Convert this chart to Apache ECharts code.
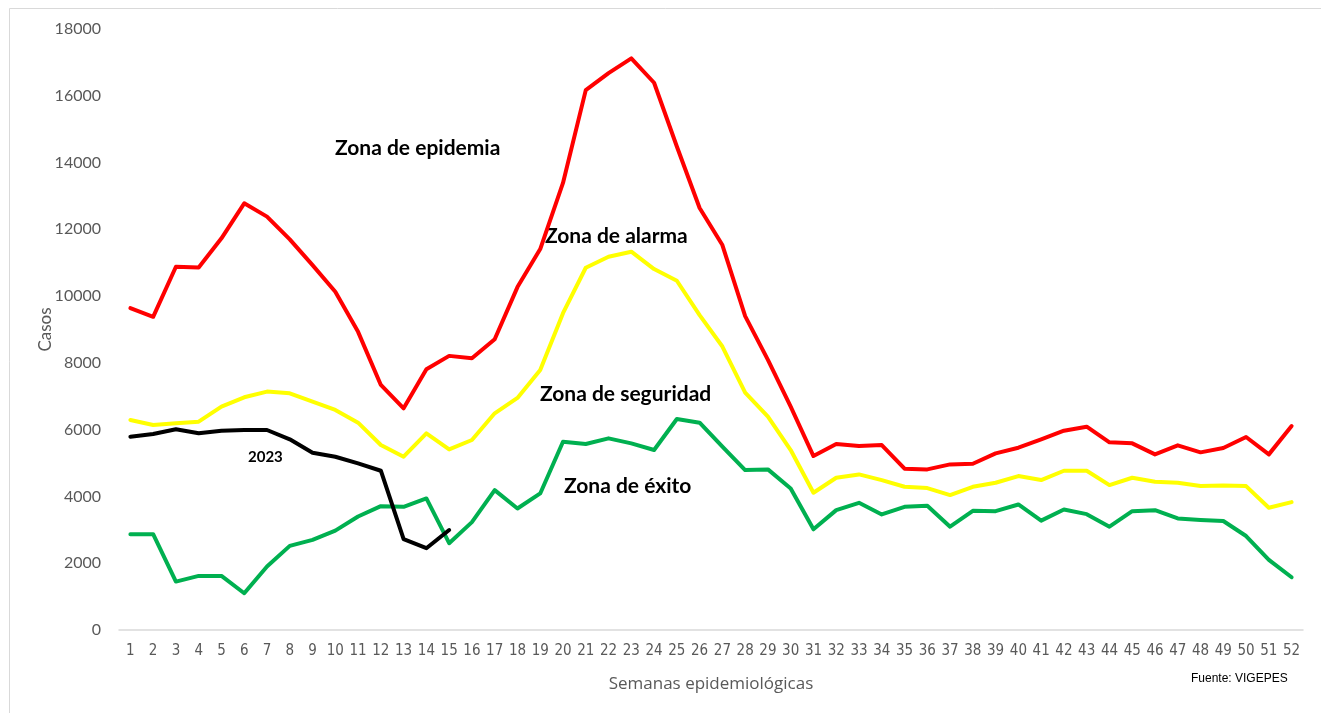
<!DOCTYPE html>
<html>
<head>
<meta charset="utf-8">
<script src="https://cdn.jsdelivr.net/npm/echarts@6/dist/echarts.min.js"></script>
<style>
  html, body { margin: 0; padding: 0; background: #fff; }
  #chart { width: 1321px; height: 713px; }
</style>
</head>
<body>
<div id="chart"></div>
<script>
// semanas 1..52
const weeks = Array.from({ length: 52 }, (_, i) => String(i + 1));

// Zona de epidemia (limite superior)
const epidemia = [9640, 9380, 10880, 10860, 11730, 12780, 12380, 11700, 10930, 10130,
  8930, 7340, 6640, 7810, 8210, 8140, 8710, 10270, 11410, 13390,
  16170, 16680, 17120, 16390, 14480, 12640, 11530, 9400, 8090, 6690,
  5210, 5570, 5510, 5540, 4830, 4810, 4960, 4980, 5290, 5460,
  5710, 5970, 6090, 5620, 5590, 5260, 5530, 5320, 5450, 5780,
  5260, 6110];

// Zona de alarma / seguridad
const alarma = [6290, 6140, 6190, 6240, 6690, 6970, 7140, 7090, 6840, 6590,
  6210, 5540, 5190, 5890, 5410, 5690, 6490, 6950, 7790, 9490,
  10850, 11180, 11330, 10810, 10460, 9430, 8490, 7110, 6390, 5390,
  4110, 4560, 4660, 4490, 4290, 4250, 4040, 4290, 4410, 4610,
  4490, 4770, 4770, 4340, 4560, 4440, 4410, 4310, 4330, 4310,
  3660, 3830];

// Zona de exito (limite inferior)
const exito = [2870, 2870, 1450, 1620, 1620, 1100, 1900, 2520, 2700, 2975,
  3400, 3710, 3690, 3940, 2600, 3230, 4190, 3640, 4090, 5640,
  5570, 5740, 5590, 5390, 6320, 6210, 5490, 4790, 4810, 4240,
  3015, 3590, 3810, 3460, 3690, 3720, 3095, 3570, 3560, 3760,
  3275, 3610, 3470, 3095, 3560, 3590, 3340, 3295, 3265, 2815,
  2100, 1580];

// casos 2023 (semanas 1-15)
const casos2023 = [5790, 5870, 6010, 5890, 5970, 5990, 5990, 5710, 5310, 5190,
  4990, 4770, 2720, 2450, 2995];

const yTicks = { min: 0, max: 18000, interval: 2000 };

const chart = echarts.init(document.getElementById('chart'));

const lbl = (text, left, top, size) => ({
  type: 'text',
  left: left,
  top: top,
  style: {
    text: text,
    fill: '#000',
    font: 'bold ' + size + 'px Lato, "Open Sans", sans-serif'
  }
});

function lineSeries(name, data, color) {
  return {
    name: name,
    type: 'line',
    data: data,
    symbol: 'none',
    smooth: false,
    lineStyle: { width: 4, color: color, join: 'round', cap: 'round' },
    itemStyle: { color: color },
    silent: true
  };
}

const option = {
  backgroundColor: '#fff',
  animation: false,
  grid: { left: 119, right: 18, top: 29, bottom: 83 },
  xAxis: {
    type: 'category',
    data: weeks,
    boundaryGap: true,
    name: 'Semanas epidemiológicas',
    nameLocation: 'middle',
    nameGap: 46,
    nameTextStyle: { color: '#595959', fontSize: 17, fontFamily: '"Liberation Sans Narrow", "Open Sans", sans-serif' },
    axisLine: { show: true, lineStyle: { color: '#d9d9d9', width: 1.5 } },
    axisTick: { show: false },
    axisLabel: {
      interval: 0,
      color: '#595959',
      fontSize: 15,
      margin: 14,
      fontFamily: '"Liberation Sans Narrow", "DejaVu Sans Condensed", sans-serif'
    },
    splitLine: { show: false }
  },
  yAxis: {
    type: 'value',
    min: yTicks.min,
    max: yTicks.max,
    interval: yTicks.interval,
    name: 'Casos',
    nameLocation: 'middle',
    nameRotate: 90,
    nameGap: 65,
    nameMoveOverlap: false,
    nameTextStyle: { color: '#595959', fontSize: 17, fontFamily: 'Lato, "Open Sans", sans-serif' },
    axisLine: { show: false },
    axisTick: { show: false },
    axisLabel: {
      color: '#595959',
      fontSize: 16,
      margin: 18,
      fontFamily: 'Lato, "Open Sans", sans-serif',
      formatter: (v) => String(v)
    },
    splitLine: { show: false }
  },
  graphic: [
    {
      type: 'rect',
      left: 7,
      top: 6,
      shape: { width: 1330, height: 720 },
      style: { fill: 'none', stroke: '#d9d9d9', lineWidth: 1 },
      silent: true
    },
    lbl('Zona de epidemia', 335, 138, 21),
    lbl('Zona de alarma', 545, 226, 21),
    lbl('Zona de seguridad', 540, 384, 21),
    lbl('Zona de éxito', 564, 476, 21),
    lbl('2023', 248, 450, 15),
    {
      type: 'text',
      left: 1191,
      top: 673,
      style: { text: 'Fuente: VIGEPES', fill: '#000', font: '12px "Liberation Sans Narrow", sans-serif' }
    }
  ],
  series: [
    lineSeries('Zona de epidemia', epidemia, '#ff0000'),
    lineSeries('Zona de alarma', alarma, '#ffff00'),
    lineSeries('Zona de éxito', exito, '#00b050'),
    lineSeries('2023', casos2023, '#000000')
  ]
};

chart.setOption(option);
window.addEventListener('resize', () => chart.resize());
</script>
</body>
</html>
